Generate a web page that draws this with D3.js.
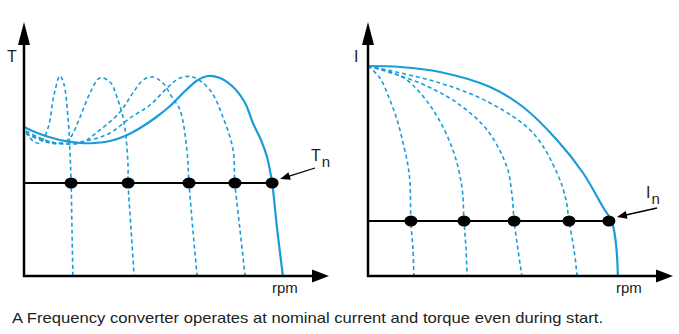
<!DOCTYPE html>
<html>
<head>
<meta charset="utf-8">
<script src="https://cdn.jsdelivr.net/npm/d3@7"></script>
<style>
  body { margin: 0; background: #fff; }
  text { font-family: "Liberation Sans", Arial, sans-serif; fill: #222; }
</style>
</head>
<body>
<div id="chart"></div>
<script>
// ---------------------------------------------------------------------------
// data (rpm and value both in % of axis length)

var torqueSolid = [[0,59.6],[5.3,56.8],[12,54.4],[18.7,53.2],[23.7,53.2],[28.7,54],[33.7,56],
  [38.7,59.2],[43.7,63.2],[48.7,68],[53.7,74],[58,78.4],[61.3,80],[65.3,79.2],[69.7,75.6],
  [73.7,69.2],[76.3,61.2],[79,54.4],[81,47.6],[82.7,37.2],[84.3,19.6],[86.3,0]];

var torqueDashed = [
  [[0.7,57.6],[3,54],[5.3,53.2],[8,59.2],[10,72.4],[12,80],[13.3,76.8],[14.7,62.8],[15.3,50.4],[15.7,37.2],[16,18.4],[16.3,0]],
  [[0.7,58],[7,54.4],[12,53.2],[15.3,55.2],[18.7,63.6],[22,73.2],[25.3,79.2],[28.7,77.6],[31.3,70.4],[33,63.6],[34,55.6],[34.7,43.6],[34.7,37.2],[35.7,18.4],[36.7,0]],
  [[0.7,57.2],[8.7,53.6],[18.7,53.2],[25.3,58.4],[32,65.6],[36.3,73.2],[39.7,78.4],[43,79.6],[46.3,77.2],[49.3,71.6],[52,66.4],[54.3,50.4],[55,37.2],[56.3,18.4],[57.7,0]],
  [[0.7,56.8],[8.7,53.2],[15.3,53.2],[22,54.4],[28.7,57.2],[35.3,63.2],[42,68.4],[47.7,75.2],[52,79.2],[56.3,79.6],[62,74.4],[66.3,63.6],[69.7,50.4],[70.3,37.2],[72,18.4],[73.7,0]]
];

var torqueNominal = 37.2;
var torqueDots = [15.7, 34.7, 55, 70.3, 82.7];

var currentSolid = [[0,84],[10.7,83.6],[24,81.6],[40.7,75.6],[51.7,67.6],[63,54.4],[71.7,41.2],
  [78.3,27.6],[81.3,21.6],[82.7,12.4],[83.3,0]];

var currentDashed = [
  [[0,84],[4,79.2],[7.3,70.4],[9.7,62.4],[11.7,53.2],[13.3,44.4],[14,37.2],[14.3,22],[15,10.4],[15.3,0]],
  [[0,84],[7.3,81.6],[13,78.4],[21.7,66.4],[28.3,50.4],[31.3,35.6],[32,22],[32.7,10.4],[33,0]],
  [[0,84],[17.3,77.2],[29.7,69.2],[39.7,58.4],[46.3,43.6],[48,32.4],[48.7,22],[50,10.4],[51.3,0]],
  [[0,84],[24,77.2],[40.7,69.2],[55,57.2],[63,41.2],[66,30.4],[67,22],[68.7,10.4],[69.7,0]]
];

var currentNominal = 22;
var currentDots = [14.3, 32, 48.7, 67, 80.3];

var caption = "A Frequency converter operates at nominal current and torque even during start.";

// ---------------------------------------------------------------------------

var width = 679, height = 334, blue = "#1a9cd8";

var svg = d3.select("#chart").append("svg")
    .attr("width", width)
    .attr("height", height);

function panel(opt) {
  var x = d3.scaleLinear().domain([0, 100]).range([opt.left, opt.left + 300]),
      y = d3.scaleLinear().domain([0, 100]).range([276, 26]);

  var g = svg.append("g");

  var line = d3.line()
      .x(function(d) { return x(d[0]); })
      .y(function(d) { return y(d[1]); })
      .curve(d3.curveCatmullRom.alpha(0.5));

  // dashed family
  g.selectAll("path.dash")
      .data(opt.dashed)
      .enter().append("path")
      .attr("class", "dash")
      .attr("d", line)
      .attr("fill", "none")
      .attr("stroke", blue)
      .attr("stroke-width", 1.6)
      .attr("stroke-dasharray", "4,3");

  g.append("path")
      .attr("d", line(opt.solid))
      .attr("fill", "none")
      .attr("stroke", blue)
      .attr("stroke-width", 2.2);

  // nominal line + dots
  g.append("line")
      .attr("x1", x(0)).attr("x2", x(d3.max(opt.dots)))
      .attr("y1", y(opt.nominal)).attr("y2", y(opt.nominal))
      .attr("stroke", "#000")
      .attr("stroke-width", 2);

  g.selectAll("ellipse")
      .data(opt.dots)
      .enter().append("ellipse")
      .attr("cx", function(d) { return x(d); })
      .attr("cy", y(opt.nominal))
      .attr("rx", 6.5)
      .attr("ry", 5.5)
      .attr("fill", "#000");

  // axes with arrow heads
  var x0 = x(0), y0 = y(0);
  g.append("line")
      .attr("x1", x0).attr("x2", x0)
      .attr("y1", y0 + 1).attr("y2", 40)
      .attr("stroke", "#000").attr("stroke-width", 2.5);
  g.append("path")
      .attr("d", "M" + x0 + ",22L" + (x0 - 6) + ",45L" + (x0 + 6) + ",45Z")
      .attr("fill", "#000");
  g.append("line")
      .attr("x1", x0 - 1).attr("x2", x0 + 292)
      .attr("y1", y0).attr("y2", y0)
      .attr("stroke", "#000").attr("stroke-width", 2.5);
  g.append("path")
      .attr("d", "M" + (x0 + 305) + "," + y0 + "L" + (x0 + 288) + "," + (y0 - 6.5) +
        "L" + (x0 + 288) + "," + (y0 + 6.5) + "Z")
      .attr("fill", "#000");

  // labels
  g.append("text")
      .attr("x", opt.yLabelX).attr("y", 62)
      .attr("font-size", 16)
      .text(opt.yLabel);
  g.append("text")
      .attr("x", x0 + 248).attr("y", 293)
      .attr("font-size", 15)
      .text("rpm");

  // pointer to nominal
  var tipX = x(d3.max(opt.dots)) + 8, tipY = y(opt.nominal) - 4;
  var ang = Math.atan2(opt.tail[1] - tipY, opt.tail[0] - tipX);
  g.append("line")
      .attr("x1", opt.tail[0]).attr("y1", opt.tail[1])
      .attr("x2", tipX + 8 * Math.cos(ang)).attr("y2", tipY + 8 * Math.sin(ang))
      .attr("stroke", "#000").attr("stroke-width", 1.3);
  var hx = tipX + 10 * Math.cos(ang), hy = tipY + 10 * Math.sin(ang),
      px = -Math.sin(ang) * 4, py = Math.cos(ang) * 4;
  g.append("path")
      .attr("d", "M" + tipX + "," + tipY + "L" + (hx + px) + "," + (hy + py) +
        "L" + (hx - px) + "," + (hy - py) + "Z")
      .attr("fill", "#000");

  var lab = g.append("text")
      .attr("x", opt.nLabel[0]).attr("y", opt.nLabel[1])
      .attr("font-size", 16);
  lab.append("tspan").text(opt.yLabel);
  lab.append("tspan").attr("dy", 6).attr("dx", 1).attr("font-size", 15).text("n");
}

panel({
  left: 24,
  solid: torqueSolid,
  dashed: torqueDashed,
  nominal: torqueNominal,
  dots: torqueDots,
  yLabel: "T",
  yLabelX: 7,
  tail: [315, 168],
  nLabel: [311, 161]
});

panel({
  left: 368,
  solid: currentSolid,
  dashed: currentDashed,
  nominal: currentNominal,
  dots: currentDots,
  yLabel: "I",
  yLabelX: 354,
  tail: [657, 208],
  nLabel: [646, 198]
});

svg.append("text")
    .attr("x", 12).attr("y", 323)
    .attr("font-size", 15)
    .attr("fill", "#3a3a3a")
    .attr("textLength", 591)
    .attr("lengthAdjust", "spacingAndGlyphs")
    .text(caption);
</script>
</body>
</html>
